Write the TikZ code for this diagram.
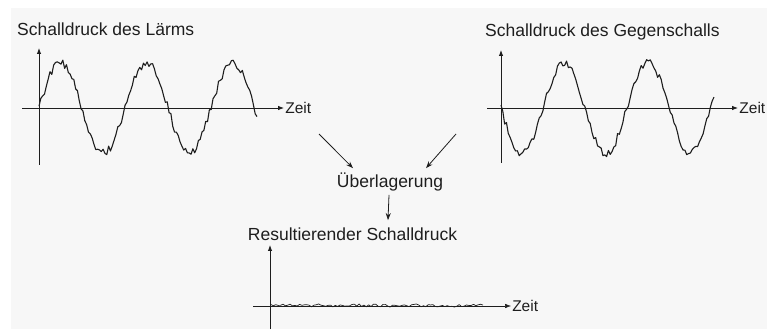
\documentclass[tikz,border=0pt]{standalone}
\usepackage{fontspec}
\setmainfont{Liberation Sans}
\usetikzlibrary{arrows.meta}
\definecolor{bgc}{RGB}{247,247,247}
\definecolor{ink}{RGB}{30,30,30}
\begin{document}
\begin{tikzpicture}[x=1pt,y=1pt,
  title/.style={font=\fontsize{17.5}{20}\selectfont, text=ink, inner sep=0pt, anchor=base west},
  zeitlbl/.style={font=\fontsize{15.5}{18}\selectfont, text=ink, inner sep=1pt, anchor=west},
  axis/.style={draw=ink, line width=0.8pt, -{Latex[length=6pt,width=4.5pt]}},
  yaxis/.style={draw=ink, line width=0.9pt, -{Latex[length=6pt,width=4.5pt]}},
  wave/.style={draw=ink, line width=1.1pt, line join=round},
  conn/.style={draw=ink, line width=0.8pt, -{Stealth[length=7pt,width=5pt]}}]
\useasboundingbox (0,0) rectangle (767,329);
\fill[bgc] (11,0) rectangle (767,321);
% titles
\node[title] (t1) at (17,293) {Schalldruck des Lärms};
\node[title] (t2) at (485,292) {Schalldruck des Gegenschalls};
% left graph
\draw[yaxis] (39,164) -- (39,281);
\draw[axis] (22,221) -- (284,221) node[zeitlbl] (z1) {Zeit};
\pgfmathsetseed{12}
\draw[wave] plot[domain=39:257, samples=120] (\x, {221 + 45*sin(4.186*(\x-39)) + 4*rand});
% right graph
\draw[yaxis] (501,166) -- (501,279);
\draw[axis] (487,221) -- (738,221) node[zeitlbl] (z2) {Zeit};
\pgfmathsetseed{345}
\draw[wave] plot[domain=501:714, samples=118] (\x, {221 - 45*sin(4.2857*(\x-501)) + 4*rand});
% center
\node[title, anchor=base] (ueber) at (390,141) {Überlagerung};
\node[title, anchor=base] (result) at (352.5,88) {Resultierender Schalldruck};
\coordinate (l1) at (319,195);
\coordinate (r1) at (456,195);
\draw[conn] (l1) -- ([xshift=-37pt,yshift=5pt]ueber.north);
\draw[conn] (r1) -- ([xshift=36pt,yshift=5pt]ueber.north);
\draw[conn] ([xshift=-1pt,yshift=-3pt]ueber.south) -- ([xshift=35.5pt,yshift=8pt]result.north);
% bottom graph
\draw[yaxis] (270,0) -- (270,84);
\draw[draw=ink, line width=0.5pt, -{Latex[length=6pt,width=4.5pt]}] (253,23) -- (511,23) node[zeitlbl] (z3) {Zeit};
\pgfmathsetseed{77}
\draw[draw=ink, line width=0.7pt, line join=round] plot[domain=271:483, samples=90] (\x, {23.5 + 1.6*rand});
\end{tikzpicture}
\end{document}
